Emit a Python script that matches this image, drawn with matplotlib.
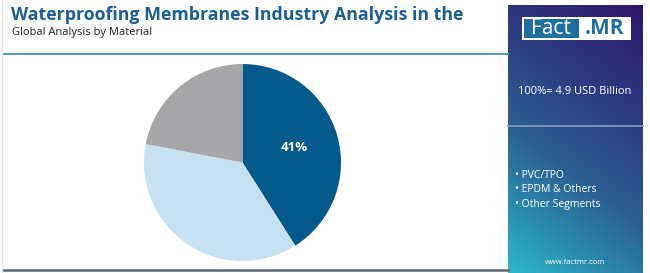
import matplotlib
matplotlib.use("Agg")
import matplotlib.pyplot as plt
import numpy as np
from matplotlib.colors import LinearSegmentedColormap
from matplotlib.patches import Rectangle

title = "Waterproofing Membranes Industry Analysis in the"
subtitle = "Global Analysis by Material"
categories = ["PVC/TPO", "EPDM & Others", "Other Segments"]
shares = [41, 37, 22]
colors = ["#045a8d", "#c6e2f2", "#a7a6a9"]
total_label = "100%= 4.9 USD Billion"
website = "www.factmr.com"

W, H = 650, 273
fig = plt.figure(figsize=(W / 100, H / 100), dpi=100)
fig.patch.set_facecolor("white")

bg = fig.add_axes([0, 0, 1, 1])
bg.set_xlim(0, W)
bg.set_ylim(H, 0)
bg.axis("off")

# frame lines
bg.plot([4, 508], [54, 54], color="#4f87aa", lw=1.3)
bg.plot([3, 508], [270, 270], color="#5f6670", lw=1.8)
bg.plot([1.5, 1.5], [0, 273], color="#e4e4e4", lw=1)

bg.text(11, 15, title, fontsize=12.8, fontweight="bold", color="#1b5f93",
        family="Open Sans", va="center", ha="left")
bg.text(12, 32, subtitle, fontsize=8, color="#222222",
        family="Open Sans", va="center", ha="left")

# right gradient panel
px0, px1, py0, py1 = 508, 643, 5, 273
ny, nx = 200, 100
yy, xx = np.mgrid[0:1:ny * 1j, 0:1:nx * 1j]
t = np.clip(0.8 * yy + 0.3 * (1 - xx), 0, 1.1) / 1.1
cmap = LinearSegmentedColormap.from_list(
    "g", [(0, "#2e156a"), (0.35, "#2c3f82"), (0.6, "#2c5e92"), (0.8, "#2b8aae"), (1, "#2ab8c6")])
bg.imshow(cmap(t), extent=[px0, px1, py1, py0], aspect="auto", zorder=1)
bg.set_xlim(0, W)
bg.set_ylim(H, 0)
bg.plot([px0, px1], [125.5, 125.5], color="#7f9cc4", lw=1.2, zorder=2)

# logo
bg.add_patch(Rectangle((521.5, 17), 109, 22.5, facecolor="white", edgecolor="none", zorder=3))
bg.add_patch(Rectangle((523.5, 19), 55.5, 18.5, facecolor="#1f6fa5", edgecolor="none", zorder=4))
bg.text(551, 28.5, "Fact", fontsize=15, color="white", family="Open Sans",
        ha="center", va="center", zorder=5)
bg.text(605, 28.5, ".MR", fontsize=15, color="#1f6fa5", family="Open Sans",
        fontweight="bold", ha="center", va="center", zorder=5)

bg.text(575, 91, total_label, fontsize=8, color="white", family="Open Sans",
        ha="center", va="center", zorder=5)
for i, c in enumerate(categories):
    bg.text(515, 175 + i * 14.5, "\u2022 " + c, fontsize=7.5, color="white",
            family="Open Sans", ha="left", va="center", zorder=5)
bg.text(575, 263, website, fontsize=5.5, color="white", family="Open Sans",
        ha="center", va="center", zorder=5)

# pie
cx, cy, r = 242.5, 162.5, 98.5
pax = fig.add_axes([(cx - r) / W, (H - cy - r) / H, 2 * r / W, 2 * r / H])
wedges, texts = pax.pie(shares, colors=colors, startangle=90, counterclock=False,
                        wedgeprops=dict(linewidth=0))
pax.set_aspect("equal")
pax.set_xlim(-1, 1)
pax.set_ylim(-1, 1)
ang = np.deg2rad(90 - shares[0] / 100 * 360 / 2)
pax.text(0.55 * np.cos(ang), 0.55 * np.sin(ang), f"{shares[0]}%", color="white",
         fontsize=9.5, fontweight="bold", family="Open Sans", ha="center", va="center")

fig.savefig("out.png", dpi=100, facecolor="white")
